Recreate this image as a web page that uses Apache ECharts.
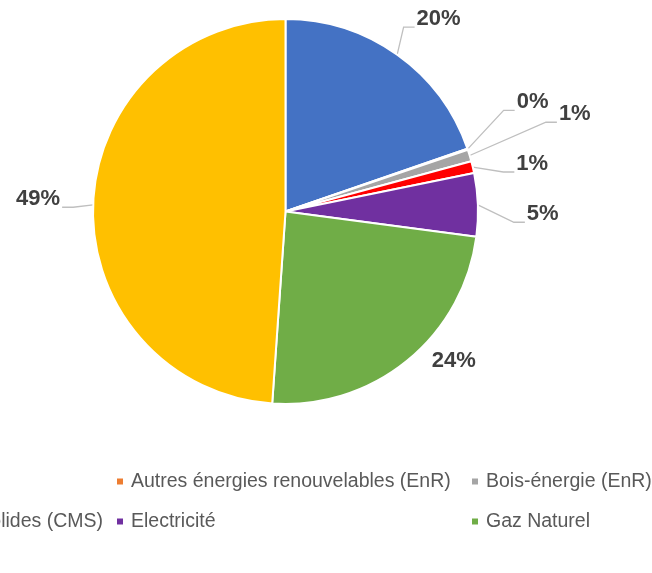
<!DOCTYPE html>
<html>
<head>
<meta charset="utf-8">
<script src="https://cdn.jsdelivr.net/npm/echarts@6/dist/echarts.min.js"></script>
<style>
  html, body { margin: 0; padding: 0; background: #fff; }
  #chart { width: 652px; height: 573px; }
</style>
</head>
<body>
<div id="chart"></div>
<script>
// Energy mix by source (share of total consumption, %)
const categories = [
  'Chauffage urbain',
  'Autres énergies renouvelables (EnR)',
  'Bois-énergie (EnR)',
  'Combustibles Minéraux Solides (CMS)',
  'Electricité',
  'Gaz Naturel',
  'Produits pétroliers'
];
const shares = [19.7, 0.1, 1.0, 1.0, 5.3, 24.0, 48.9];
const colors = ['#4472C4', '#ED7D31', '#A5A5A5', '#FF0000', '#7030A0', '#70AD47', '#FFC000'];

// Nudges [dx, dy] applied to each slice's percentage label so that the
// labels of the thin slices spread out instead of stacking.
const labelNudge = [[-6, -21], [17, -41], [57, -36], [11, 1], [16, 10], [-2, -14], [0, -5]];
// Slices whose label sits right next to the arc need no leader line.
const noLeader = [false, false, false, false, false, true, false];

const PIE_CX = 285.5;
const ELBOW = 11;      // horizontal run of a leader line before the label
const LINE_GAP = 2;    // space between leader line end and label text
const LINE_DROP = 8;   // leader meets the label a little below its middle

const legendText = { color: '#595959', fontSize: 19.5, fontFamily: 'Liberation Sans', padding: [0, 0, 0, 2] };

function legendAt(name, pos) {
  return Object.assign({
    data: [name],
    orient: 'horizontal',
    padding: 0,
    icon: 'rect',
    itemWidth: 8,
    itemHeight: 8,
    selectedMode: false,
    textStyle: legendText
  }, pos);
}

// Move a label by its nudge and redraw its leader line: from the arc
// midpoint of the slice, to an elbow, then level into the label's side.
function placeLabel(p) {
  const [dx, dy] = labelNudge[p.dataIndex];
  const r = p.labelRect;
  const x = r.x + dx;
  const y = r.y + dy + r.height / 2 + LINE_DROP;
  const onRight = x > PIE_CX;
  const endX = onRight ? x - LINE_GAP : x + r.width + LINE_GAP;
  const elbowX = onRight ? endX - ELBOW : endX + ELBOW;
  const start = p.labelLinePoints ? p.labelLinePoints[0] : [endX, y];
  return {
    dx, dy,
    labelLinePoints: [start, [elbowX, y], [endX, y]]
  };
}

const chart = echarts.init(document.getElementById('chart'), null, { renderer: 'canvas' });
chart.setOption({
  animation: false,
  color: colors,
  legend: [
    legendAt(categories[1], { left: 115, top: 471.5 }),
    legendAt(categories[2], { left: 470, top: 471.5 }),
    legendAt(categories[3], { right: 549, top: 511.5 }),
    legendAt(categories[4], { left: 115, top: 511.5 }),
    legendAt(categories[5], { left: 470, top: 511.5 })
  ],
  series: [{
    type: 'pie',
    center: [PIE_CX, 211.5],
    radius: 192.5,
    startAngle: 90,
    clockwise: true,
    avoidLabelOverlap: false,
    itemStyle: { borderColor: '#fff', borderWidth: 2 },
    label: {
      show: true,
      position: 'outside',
      formatter: p => Math.round(p.percent) + '%',
      color: '#404040',
      fontSize: 22,
      fontWeight: 'bold',
      fontFamily: 'Liberation Sans'
    },
    labelLine: {
      show: true,
      length: 18,
      length2: 10,
      lineStyle: { color: '#BFBFBF', width: 1.3 }
    },
    labelLayout: placeLabel,
    data: categories.map((name, i) => ({
      name,
      value: shares[i],
      labelLine: { show: !noLeader[i] }
    }))
  }]
});
</script>
</body>
</html>
